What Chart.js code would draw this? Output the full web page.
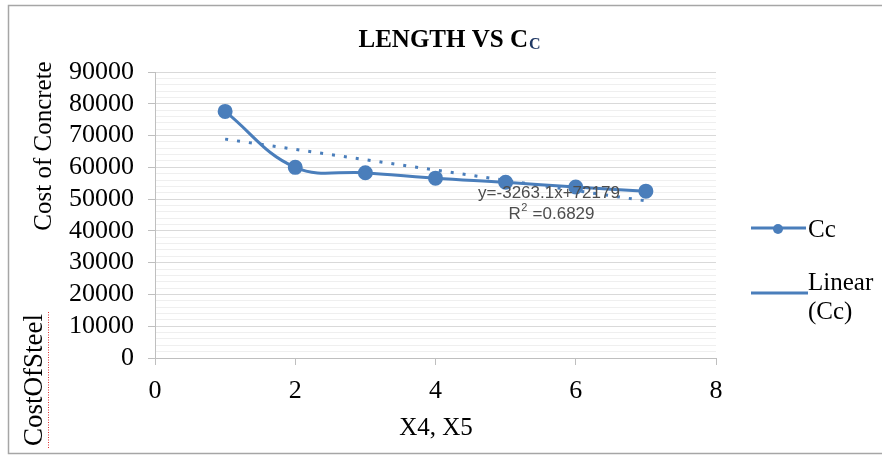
<!DOCTYPE html>
<html>
<head>
<meta charset="utf-8">
<script src="https://cdn.jsdelivr.net/npm/chart.js@4/dist/chart.umd.min.js"></script>
<style>
html,body{margin:0;padding:0;background:#fff;}
#wrap{position:relative;width:882px;height:455px;}
</style>
</head>
<body>
<div id="wrap"><canvas id="c" width="882" height="455"></canvas></div>
<script>
// ---- data ----
const xValues = [1, 2, 3, 4, 5, 6, 7];
const ccValues = [77600, 60000, 58300, 56600, 55300, 53800, 52500];
const yTickMax = 90000;
const xTickMax = 8;
const chartTitle = "LENGTH VS C";
const chartTitleSub = "C";
const yAxisTitle = "Cost of Concrete";
const xAxisTitle = "X4, X5";
const strayText = "CostOfSteel";
const seriesName = "Cc";
const trendName = ["Linear", "(Cc)"];
const trendEquation = "y=-3263.1x+72179";
const trendR2 = ["R", "2", " =0.6829"];

// least squares linear trend computed from the data
const n = xValues.length;
const mx = xValues.reduce((a, b) => a + b, 0) / n;
const my = ccValues.reduce((a, b) => a + b, 0) / n;
let sxy = 0, sxx = 0;
for (let i = 0; i < n; i++) { sxy += (xValues[i] - mx) * (ccValues[i] - my); sxx += (xValues[i] - mx) ** 2; }
const slope = sxy / sxx, intercept = my - slope * mx;
const trendPts = [xValues[0], xValues[n - 1]].map(x => ({ x: x, y: intercept + slope * x }));

const BLUE = '#4a7ebb';
const SERIF = '"Liberation Serif", "Times New Roman", serif';
const SANS = '"Liberation Sans", Arial, sans-serif';

const overlay = {
  id: 'overlay',
  afterDraw(chart) {
    const ctx = chart.ctx;
    ctx.save();
    // outer border
    ctx.strokeStyle = '#a6a6a6';
    ctx.lineWidth = 1.5;
    ctx.beginPath();
    ctx.moveTo(890, 5.5); ctx.lineTo(8.5, 5.5); ctx.lineTo(8.5, 453.5); ctx.lineTo(890, 453.5);
    ctx.stroke();

    // title
    ctx.fillStyle = '#000';
    ctx.textBaseline = 'alphabetic';
    ctx.font = 'bold 25px ' + SERIF;
    const tw = ctx.measureText(chartTitle).width;
    ctx.font = 'bold 16px ' + SERIF;
    const sw = ctx.measureText(chartTitleSub).width;
    const tx = 449 - (tw + sw) / 2;
    ctx.font = 'bold 25px ' + SERIF;
    ctx.textAlign = 'left';
    ctx.fillText(chartTitle, tx, 47);
    ctx.font = 'bold 16px ' + SERIF;
    ctx.fillStyle = '#1f3864';
    ctx.fillText(chartTitleSub, tx + tw + 1, 49);

    // y axis title
    ctx.fillStyle = '#000';
    ctx.font = '25px ' + SERIF;
    ctx.textAlign = 'center';
    ctx.textBaseline = 'middle';
    ctx.save();
    ctx.translate(44, 146);
    ctx.rotate(-Math.PI / 2);
    ctx.fillText(yAxisTitle, 0, 0);
    ctx.restore();

    // stray rotated text
    ctx.font = '27px ' + SERIF;
    ctx.save();
    ctx.translate(35, 380);
    ctx.rotate(-Math.PI / 2);
    ctx.fillText(strayText, 0, 0);
    ctx.restore();
    ctx.strokeStyle = '#e03030';
    ctx.lineWidth = 1;
    ctx.setLineDash([1, 1.5]);
    ctx.beginPath(); ctx.moveTo(48.5, 312); ctx.lineTo(48.5, 448); ctx.stroke();
    ctx.setLineDash([]);

    // x axis title
    ctx.fillStyle = '#000';
    ctx.font = '25px ' + SERIF;
    ctx.fillText(xAxisTitle, 436, 428);

    // trend label
    ctx.fillStyle = '#4d4d4d';
    ctx.font = '17px ' + SANS;
    ctx.textAlign = 'center';
    ctx.fillText(trendEquation, 549, 193);
    ctx.textAlign = 'left';
    const r0 = ctx.measureText(trendR2[0]).width;
    ctx.font = '11px ' + SANS;
    const r1 = ctx.measureText(trendR2[1]).width;
    ctx.font = '17px ' + SANS;
    const r2 = ctx.measureText(trendR2[2]).width;
    let rx = 551 - (r0 + r1 + r2) / 2;
    ctx.fillText(trendR2[0], rx, 214);
    ctx.font = '11px ' + SANS;
    ctx.fillText(trendR2[1], rx + r0 + 0.5, 208);
    ctx.font = '17px ' + SANS;
    ctx.fillText(trendR2[2], rx + r0 + r1 + 1, 214);

    // legend
    ctx.strokeStyle = BLUE;
    ctx.lineWidth = 3;
    ctx.beginPath(); ctx.moveTo(751, 228); ctx.lineTo(806, 228); ctx.stroke();
    ctx.fillStyle = BLUE;
    ctx.beginPath(); ctx.arc(778, 229, 5, 0, Math.PI * 2); ctx.fill();
    ctx.beginPath(); ctx.moveTo(751, 293); ctx.lineTo(808, 293); ctx.stroke();
    ctx.fillStyle = '#000';
    ctx.font = '25px ' + SERIF;
    ctx.textAlign = 'left';
    ctx.fillText(seriesName, 808, 230);
    ctx.fillText(trendName[0], 808, 283);
    ctx.fillText(trendName[1], 808, 312);
    ctx.restore();
  }
};

new Chart(document.getElementById('c'), {
  type: 'line',
  data: {
    datasets: [
      {
        label: seriesName,
        data: xValues.map((x, i) => ({ x: x, y: ccValues[i] })),
        borderColor: BLUE,
        backgroundColor: BLUE,
        borderWidth: 3,
        pointRadius: 6,
        pointHoverRadius: 6,
        tension: 0.4,
        order: 1
      },
      {
        label: trendName.join(' '),
        data: trendPts,
        borderColor: BLUE,
        borderWidth: 3,
        borderDash: [3, 9],
        pointRadius: 0,
        tension: 0,
        order: 2
      }
    ]
  },
  options: {
    responsive: false,
    animation: false,
    events: [],
    layout: { padding: { left: 0, right: 166, top: 72, bottom: 0 } },
    plugins: { legend: { display: false }, title: { display: false }, tooltip: { enabled: false } },
    scales: {
      x: {
        type: 'linear',
        min: 0, max: xTickMax,
        afterFit(s) { s.height = 97; },
        ticks: { stepSize: 2, color: '#000', font: { family: SERIF, size: 26 }, padding: 11, maxRotation: 0 },
        grid: { drawOnChartArea: false, tickLength: 7, color: '#bfbfbf' },
        border: { color: '#bfbfbf', width: 1 }
      },
      y: {
        min: 0, max: yTickMax,
        afterFit(s) { s.width = 155; },
        ticks: {
          stepSize: 2000, autoSkip: false, color: '#000',
          font: { family: SERIF, size: 26 }, padding: 14,
          callback: v => (v % 10000 === 0 ? String(v) : '')
        },
        grid: {
          tickLength: 7,
          color: c => (c.tick && c.tick.value % 10000 === 0 ? '#d9d9d9' : '#efefef'),
          tickColor: c => (c.tick && c.tick.value % 10000 === 0 ? '#bfbfbf' : 'rgba(0,0,0,0)')
        },
        border: { color: '#bfbfbf', width: 1 }
      }
    }
  },
  plugins: [overlay]
});
</script>
</body>
</html>
